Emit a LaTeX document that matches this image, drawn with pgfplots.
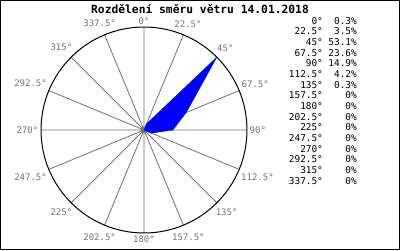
\documentclass[border=0pt]{standalone}
\usepackage{fontspec}
\setmonofont{DejaVu Sans Mono}
\usepackage{pgfplots}
\pgfplotsset{compat=1.18}
\usepgfplotslibrary{polar}
\begin{document}
\begin{tikzpicture}[x=1pt,y=1pt]
\useasboundingbox (0,0) rectangle (400,250);
\fill[white] (0,0) rectangle (400,250);
\draw[black, line width=1pt] (0.5,0.5) rectangle (399.5,249.5);
\node[font=\ttfamily\bfseries\fontsize{11.3}{12}\selectfont, anchor=center] at (200,241) {Rozdělení směru větru 14.01.2018};
\begin{polaraxis}[
  at={(144pt,120pt)}, anchor=origin,
  width=206pt, height=206pt, scale only axis,
  ymin=0, ymax=53.1,
  ytick=\empty,
  xtick={0,22.5,...,337.5},
  xticklabels={90°,67.5°,45°,22.5°,0°,337.5°,315°,292.5°,270°,247.5°,225°,202.5°,180°,157.5°,135°,112.5°},
  xticklabel style={font=\ttfamily\fontsize{9}{10}\selectfont, text=black!55, inner sep=2.5pt},
  xmajorgrids,
  major grid style={draw=black!55, line width=0.8pt},
  xtick style={draw=none},
  separate axis lines,
  x axis line style={black, line width=1pt},
  y axis line style={draw=none},
  x filter/.expression={mod(450-x,360)},
]
\addplot[fill=blue, draw=green!70!black, line width=0.4pt] coordinates {
  (0,0.3) (22.5,3.5) (45,53.1) (67.5,23.6) (90,14.9) (112.5,4.2) (135,0.3) (157.5,0)
  (180,0) (202.5,0) (225,0) (247.5,0) (270,0) (292.5,0) (315,0) (337.5,0) (0,0.3)
};
\addplot[fill=blue, draw=none] coordinates {
  (0,0.3) (22.5,3.5) (45,53.1) (67.5,23.6) (90,14.9) (112.5,4.2) (135,0.3) (157.5,0)
  (180,0) (202.5,0) (225,0) (247.5,0) (270,0) (292.5,0) (315,0) (337.5,0) (0,0.3)
};
\end{polaraxis}
\node[font=\ttfamily\fontsize{9.4}{10.67}\selectfont, anchor=north east, inner sep=0pt, align=right] at (357,233.5) {%
\begin{tabular}{@{}r@{\hspace{5.6pt}}r@{}}
0° & 0.3\% \\
22.5° & 3.5\% \\
45° & 53.1\% \\
67.5° & 23.6\% \\
90° & 14.9\% \\
112.5° & 4.2\% \\
135° & 0.3\% \\
157.5° & 0\% \\
180° & 0\% \\
202.5° & 0\% \\
225° & 0\% \\
247.5° & 0\% \\
270° & 0\% \\
292.5° & 0\% \\
315° & 0\% \\
337.5° & 0\% \\
\end{tabular}};
\end{tikzpicture}
\end{document}
